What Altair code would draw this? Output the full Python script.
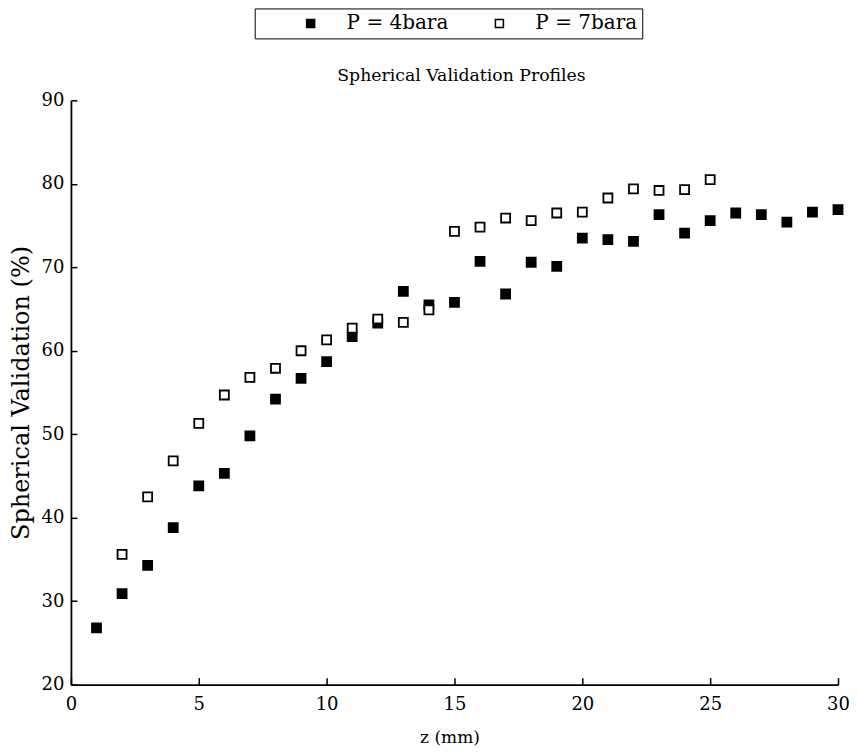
import altair as alt
import pandas as pd

series_names = ["P = 4bara", "P = 7bara"]
z_4bara = list(range(1, 31))
sv_4bara = [26.8, 30.9, 34.3, 38.8, 43.8, 45.3, 49.8, 54.2, 56.7, 58.7,
            61.7, 63.3, 67.1, 65.5, 65.8, 70.7, 66.8, 70.6, 70.1, 73.5,
            73.3, 73.1, 76.3, 74.1, 75.6, 76.5, 76.3, 75.4, 76.6, 76.9]
z_7bara = list(range(2, 26))
sv_7bara = [35.6, 42.5, 46.8, 51.3, 54.7, 56.8, 57.9, 60.0, 61.3, 62.7,
            63.8, 63.4, 64.9, 74.3, 74.8, 75.9, 75.6, 76.5, 76.6, 78.3,
            79.4, 79.2, 79.3, 80.5]
x_ticks = [0, 5, 10, 15, 20, 25, 30]
y_ticks = [20, 30, 40, 50, 60, 70, 80, 90]

df = pd.DataFrame({
    "z": z_4bara + z_7bara,
    "sv": sv_4bara + sv_7bara,
    "series": [series_names[0]] * len(z_4bara) + [series_names[1]] * len(z_7bara),
})

FONT = "DejaVu Serif"
W, H = 768, 585
xs = alt.Scale(domain=[0, 30], nice=False, zero=False)
ys = alt.Scale(domain=[20, 90], nice=False, zero=False)

# inward ticks drawn by opposite-side axes moved onto the plot edges
tick_layer = alt.Chart(df).mark_point(opacity=0).encode(
    x=alt.X("z:Q", scale=xs, axis=alt.Axis(orient="top", offset=-H, values=x_ticks,
                                           labels=False, domain=False, grid=False,
                                           tickSize=7, tickWidth=1.5, tickColor="black",
                                           title="")),
    y=alt.Y("sv:Q", scale=ys, axis=alt.Axis(orient="right", offset=-W, values=y_ticks,
                                            labels=False, domain=False, grid=False,
                                            tickSize=6, tickWidth=1.5, tickColor="black",
                                            title="")),
)

points = alt.Chart(df).mark_square(size=81, stroke="black", strokeWidth=1.8, opacity=1).encode(
    x=alt.X("z:Q", scale=xs, axis=alt.Axis(
        orient="bottom", values=x_ticks, ticks=False, grid=False,
        domainColor="black", domainWidth=1.8,
        labelFont=FONT, labelFontSize=18, labelColor="black", labelPadding=11,
        labelFlush=False,
        title="z (mm)", titleFont=FONT, titleFontSize=17, titleFontWeight="normal",
        titleColor="black", titleX=379, titleY=53, titleBaseline="middle",
        titleAlign="center")),
    y=alt.Y("sv:Q", scale=ys, axis=alt.Axis(
        orient="left", values=y_ticks, ticks=False, grid=False,
        domainColor="black", domainWidth=1.8,
        labelFont=FONT, labelFontSize=18, labelColor="black", labelPadding=7,
        labelFlush=False,
        title="Spherical Validation (%)", titleFont=FONT, titleFontSize=24,
        titleFontWeight="normal", titleColor="black", titleX=-49, titleY=H / 2,
        titleAngle=270, titleBaseline="middle", titleAlign="center")),
    fill=alt.Fill("series:N",
                  scale=alt.Scale(domain=series_names, range=["black", "white"]),
                  legend=alt.Legend(
                      title=None, orient="none", legendX=184, legendY=-92,
                      direction="horizontal", strokeColor="black", padding=5,
                      symbolType="square", symbolSize=64, symbolStrokeColor="black",
                      symbolStrokeWidth=1.5, symbolOffset=41,
                      labelFont=FONT, labelFontSize=20, labelColor="black",
                      labelOffset=26, columnPadding=0)),
)

chart = alt.layer(tick_layer, points).resolve_axis(
    x="independent", y="independent"
).properties(
    width=W, height=H,
    autosize=alt.AutoSizeParams(type="none"),
    padding={"left": 63, "top": 92, "right": 12, "bottom": 62},
    title=alt.Title("Spherical Validation Profiles", font=FONT, fontSize=17.3,
                    fontWeight="normal", color="black", anchor="middle",
                    frame="group", offset=-90, dx=7, baseline="alphabetic"),
).configure_view(strokeWidth=0)

chart.save("out.html", embed_options={"renderer": "svg", "actions": False})
